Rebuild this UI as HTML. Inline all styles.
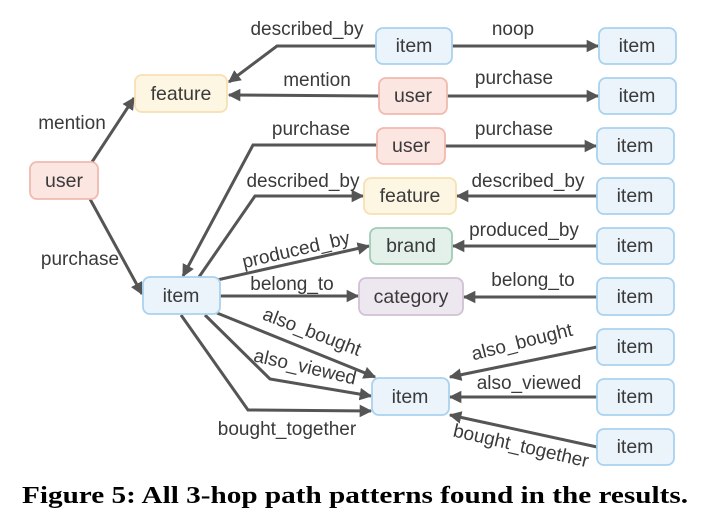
<!DOCTYPE html>
<html><head><meta charset="utf-8"><style>
html,body{margin:0;padding:0;background:#fff;width:702px;height:519px;overflow:hidden}
svg text{font-family:"Liberation Sans",sans-serif;fill:#3a3a3a}
.l{font-size:19px}
.n{font-size:19.5px;text-anchor:middle;dominant-baseline:central}
</style></head><body>
<svg width="702" height="519" viewBox="0 0 702 519" xmlns="http://www.w3.org/2000/svg">
<defs><marker id="a" viewBox="0 0 10 10" refX="9" refY="5" markerWidth="4.2" markerHeight="4.2" orient="auto"><path d="M0,0L10,5L0,10z" fill="#555"/></marker></defs>
<g fill="none" stroke="#555" stroke-width="3" marker-end="url(#a)">
<path d="M92,162L134,98"/>
<path d="M90,199L142,294"/>
<path d="M376,46L277,46L229,82"/>
<path d="M379,96L229,95"/>
<path d="M452,46L598,46"/>
<path d="M447,96L598,96"/>
<path d="M377,145L253,145L183,276"/>
<path d="M445,146L596,146"/>
<path d="M199,277L255,196L363,196"/>
<path d="M597,196L457,196"/>
<path d="M217,280L369,246"/>
<path d="M597,246L453,246"/>
<path d="M220,296L358,296"/>
<path d="M597,297L464,297"/>
<path d="M217,313L375,377"/>
<path d="M205,315L270,379L371,396"/>
<path d="M181,315L248,410L371,411"/>
<path d="M597,347L450,377"/>
<path d="M597,397L450,397"/>
<path d="M597,447L450,415"/>
</g>
<g stroke-width="1.8">
<rect x="30" y="162" width="68" height="37" rx="7" fill="#fbe6e2" stroke="#f2b9ae"/>
<rect x="135" y="75" width="92" height="37" rx="7" fill="#fdf6e3" stroke="#f7e0b2"/>
<rect x="376" y="28" width="76" height="36" rx="7" fill="#ebf3fb" stroke="#a9d2ef"/>
<rect x="599" y="28" width="77" height="36" rx="7" fill="#ebf3fb" stroke="#a9d2ef"/>
<rect x="379" y="78" width="68" height="36" rx="7" fill="#fbe6e2" stroke="#f2b9ae"/>
<rect x="599" y="78" width="77" height="36" rx="7" fill="#ebf3fb" stroke="#a9d2ef"/>
<rect x="377" y="128" width="68" height="36" rx="7" fill="#fbe6e2" stroke="#f2b9ae"/>
<rect x="597" y="128" width="77" height="36" rx="7" fill="#ebf3fb" stroke="#a9d2ef"/>
<rect x="364" y="178" width="92" height="36" rx="7" fill="#fdf6e3" stroke="#f7e0b2"/>
<rect x="597" y="178" width="77" height="36" rx="7" fill="#ebf3fb" stroke="#a9d2ef"/>
<rect x="370" y="228" width="82" height="36" rx="7" fill="#e3f1ea" stroke="#a0ccb6"/>
<rect x="597" y="228" width="77" height="36" rx="7" fill="#ebf3fb" stroke="#a9d2ef"/>
<rect x="143" y="277" width="77" height="37" rx="7" fill="#ebf3fb" stroke="#a9d2ef"/>
<rect x="359" y="278" width="104" height="37" rx="7" fill="#ede7ef" stroke="#d0c1d4"/>
<rect x="597" y="278" width="77" height="37" rx="7" fill="#ebf3fb" stroke="#a9d2ef"/>
<rect x="372" y="378" width="77" height="37" rx="7" fill="#ebf3fb" stroke="#a9d2ef"/>
<rect x="597" y="329" width="77" height="36" rx="7" fill="#ebf3fb" stroke="#a9d2ef"/>
<rect x="597" y="379" width="77" height="36" rx="7" fill="#ebf3fb" stroke="#a9d2ef"/>
<rect x="597" y="429" width="77" height="36" rx="7" fill="#ebf3fb" stroke="#a9d2ef"/>
</g>
<g>
<text class="n" x="64" y="181">user</text>
<text class="n" x="181" y="94">feature</text>
<text class="n" x="414" y="46">item</text>
<text class="n" x="637" y="46">item</text>
<text class="n" x="413" y="96">user</text>
<text class="n" x="637" y="96">item</text>
<text class="n" x="411" y="146">user</text>
<text class="n" x="635" y="146">item</text>
<text class="n" x="410" y="196">feature</text>
<text class="n" x="411" y="246">brand</text>
<text class="n" x="635" y="196">item</text>
<text class="n" x="635" y="246">item</text>
<text class="n" x="181" y="296">item</text>
<text class="n" x="411" y="297">category</text>
<text class="n" x="635" y="297">item</text>
<text class="n" x="410" y="397">item</text>
<text class="n" x="635" y="347">item</text>
<text class="n" x="635" y="397">item</text>
<text class="n" x="635" y="447">item</text>
</g>
<g text-anchor="middle">
<text class="l" x="307" y="35">described_by</text>
<text class="l" x="513" y="35">noop</text>
<text class="l" x="317" y="86">mention</text>
<text class="l" x="514" y="84">purchase</text>
<text class="l" x="72" y="129">mention</text>
<text class="l" x="80" y="265">purchase</text>
<text class="l" x="311" y="135">purchase</text>
<text class="l" x="514" y="135">purchase</text>
<text class="l" x="303" y="187">described_by</text>
<text class="l" x="528" y="187">described_by</text>
<text class="l" x="296" y="256" transform="rotate(-13 296 250)">produced_by</text>
<text class="l" x="524" y="236">produced_by</text>
<text class="l" x="292" y="290">belong_to</text>
<text class="l" x="533" y="286">belong_to</text>
<text class="l" x="312" y="338" transform="rotate(21 312 332)">also_bought</text>
<text class="l" x="305" y="373" transform="rotate(13 305 367)">also_viewed</text>
<text class="l" x="287" y="435">bought_together</text>
<text class="l" x="522" y="348" transform="rotate(-14 522 342)">also_bought</text>
<text class="l" x="529" y="389">also_viewed</text>
<text class="l" x="521" y="452" transform="rotate(13 521 446)">bought_together</text>
</g>
<text x="22" y="503" textLength="666" lengthAdjust="spacingAndGlyphs" style="font-family:'Liberation Serif',serif;font-weight:bold;font-size:24px;fill:#000">Figure 5: All 3-hop path patterns found in the results.</text>
</svg>
</body></html>
